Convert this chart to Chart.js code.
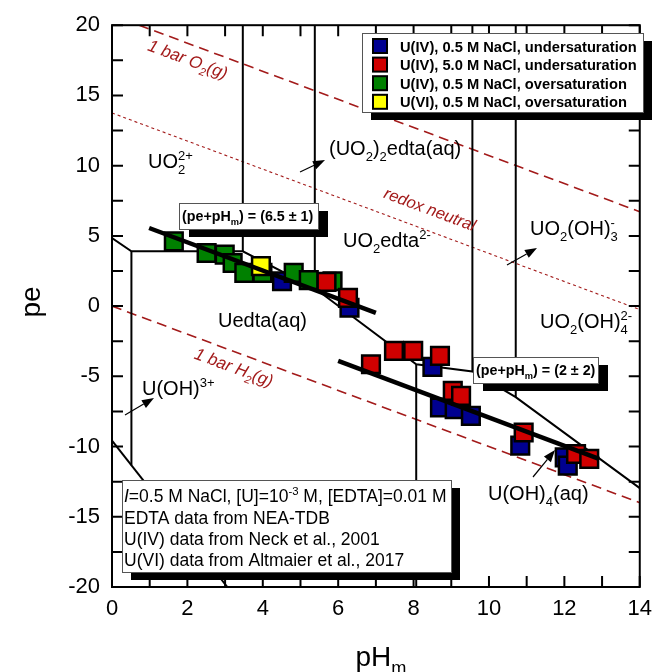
<!DOCTYPE html>
<html><head><meta charset="utf-8">
<script src="https://cdn.jsdelivr.net/npm/chart.js@4.4.1/dist/chart.umd.min.js"></script>
<style>html,body{margin:0;padding:0;background:#fff}canvas{display:block}</style>
</head><body>
<canvas id="c" width="661" height="672"></canvas>
<script>
// ---------- data ----------
const xTicks = [0, 2, 4, 6, 8, 10, 12, 14];
const yTicks = [-20, -15, -10, -5, 0, 5, 10, 15, 20];

const seriesNames = [
  'U(IV), 0.5 M NaCl, undersaturation',
  'U(IV), 5.0 M NaCl, undersaturation',
  'U(IV), 0.5 M NaCl, oversaturation',
  'U(VI), 0.5 M NaCl, oversaturation'
];
const blue05PH = [4.51, 6.30, 8.50, 8.70, 9.09, 9.52, 10.83, 12.01, 12.09];
const blue05PE = [1.77, -0.12, -4.33, -7.22, -7.33, -7.81, -9.94, -10.77, -11.36];
const red50PH = [5.69, 6.26, 6.87, 7.48, 7.99, 8.70, 9.04, 9.26, 10.92, 12.31, 12.66];
const red50PE = [1.73, 0.59, -4.14, -3.19, -3.19, -3.55, -6.03, -6.39, -9.00, -10.53, -10.88];
const green05PH = [1.64, 2.51, 2.99, 3.20, 3.51, 3.99, 4.82, 5.22, 5.85];
const green05PE = [4.61, 3.78, 3.67, 3.07, 2.36, 2.36, 2.36, 1.85, 1.77];
const yellowPH = [3.95];
const yellowPE = [2.84];

// fit lines (pe + pHm = const)
const fitHighPH = [0.985, 7.0];
const fitHighPE = [5.56, -0.48];
const fitLowPH = [6.0, 12.92];
const fitLowPE = [-3.90, -10.88];

// water stability / redox lines
const o2PH = [0.72, 14];
const o2PE = [20.0, 6.72];
const neutralPH = [0, 14];
const neutralPE = [13.75, -0.25];
const h2PH = [0, 14];
const h2PE = [0.0, -14.0];

// predominance boundaries
const bMainPH = [0, 0.515, 3.47, 5.38, 8.07, 9.56, 10.71, 14];
const bMainPE = [4.85, 3.90, 3.90, 1.27, -4.14, -4.65, -6.48, -12.96];
const bV1PH = [3.47, 3.47];   const bV1PE = [3.90, 20];
const bV2PH = [5.38, 5.38];   const bV2PE = [1.27, 20];
const bV3PH = [9.56, 9.56];   const bV3PE = [-4.65, 20];
const bV4PH = [10.71, 10.71]; const bV4PE = [-6.48, 20];
const bV5PH = [0.515, 0.515]; const bV5PE = [3.90, -11.33];
const bV6PH = [8.07, 8.07];   const bV6PE = [-4.14, -20];
const bDiagPH = [0, 3.06];    const bDiagPE = [-9.58, -20];

// ---------- helpers ----------
const FONT = '"Liberation Sans", Arial, Helvetica, sans-serif';
const DRED = '#a31b1b';
function xy(a, b) { return a.map((v, i) => ({ x: v, y: b[i] })); }
function f(size, bold, italic) { return (italic ? 'italic ' : '') + (bold ? 'bold ' : '') + size + 'px ' + FONT; }

function measureParts(ctx, parts, size, o) {
  let w = 0; const small = size * (o.small || 0.65);
  for (const p of parts) {
    if (typeof p === 'string') { ctx.font = f(size, o.bold, o.italic); w += ctx.measureText(p).width; }
    else if (p.it !== undefined) { ctx.font = f(size, o.bold, true); w += ctx.measureText(p.it).width; }
    else {
      ctx.font = f(small, o.bold, o.italic);
      const a = p.sub ? ctx.measureText(p.sub).width : 0;
      const b = p.sup ? ctx.measureText(p.sup).width : 0;
      w += Math.max(a, b);
    }
  }
  return w;
}
function drawParts(ctx, x, y, parts, size, o = {}) {
  const small = size * (o.small || 0.65);
  let cx = x;
  if (o.align === 'center') cx -= measureParts(ctx, parts, size, o) / 2;
  ctx.textAlign = 'left'; ctx.textBaseline = 'alphabetic';
  ctx.fillStyle = o.color || '#000';
  for (const p of parts) {
    if (typeof p === 'string') {
      ctx.font = f(size, o.bold, o.italic); ctx.fillText(p, cx, y); cx += ctx.measureText(p).width;
    } else if (p.it !== undefined) {
      ctx.font = f(size, o.bold, true); ctx.fillText(p.it, cx, y); cx += ctx.measureText(p.it).width;
    } else {
      ctx.font = f(small, o.bold, o.italic); let w = 0;
      if (p.sub) { ctx.fillText(p.sub, cx, y + size * 0.28); w = ctx.measureText(p.sub).width; }
      if (p.sup) { ctx.fillText(p.sup, cx, y - size * 0.42); w = Math.max(w, ctx.measureText(p.sup).width); }
      cx += w;
    }
  }
}
function shadowBox(ctx, x, y, w, h, dx, dy) {
  ctx.fillStyle = '#000'; ctx.fillRect(x + dx, y + dy, w, h);
  ctx.fillStyle = '#fff'; ctx.fillRect(x, y, w, h);
  ctx.strokeStyle = '#555'; ctx.lineWidth = 1; ctx.strokeRect(x + 0.5, y + 0.5, w, h);
}
function arrow(ctx, x1, y1, x2, y2) {
  const ang = Math.atan2(y2 - y1, x2 - x1), L = 12, W = 4.5;
  const bx = x2 - L * Math.cos(ang), by = y2 - L * Math.sin(ang);
  ctx.strokeStyle = '#000'; ctx.lineWidth = 1.2;
  ctx.beginPath(); ctx.moveTo(x1, y1); ctx.lineTo(bx, by); ctx.stroke();
  ctx.fillStyle = '#000'; ctx.beginPath();
  ctx.moveTo(x2, y2);
  ctx.lineTo(bx + W * Math.sin(ang), by - W * Math.cos(ang));
  ctx.lineTo(bx - W * Math.sin(ang), by + W * Math.cos(ang));
  ctx.closePath(); ctx.fill();
}

// ---------- datasets ----------
const lineDs = (label, a, b, color, width, dash, order) => ({
  label, data: xy(a, b), showLine: true, pointRadius: 0, borderColor: color,
  borderWidth: width, borderDash: dash || [], fill: false, order, tension: 0
});
const markDs = (label, a, b, color, order) => ({
  label, data: xy(a, b), showLine: false, pointStyle: 'rect', pointRadius: 12.5,
  pointHoverRadius: 12.5, backgroundColor: color, borderColor: '#000', borderWidth: 2.5, order
});
const COLORS = ['#000090', '#d00000', '#008000', '#ffff00'];

const datasets = [
  lineDs('fitHigh', fitHighPH, fitHighPE, '#000', 4.5, null, 0),
  lineDs('fitLow', fitLowPH, fitLowPE, '#000', 4.5, null, 0),
  markDs(seriesNames[1], red50PH, red50PE, COLORS[1], 1),
  markDs(seriesNames[3], yellowPH, yellowPE, COLORS[3], 2),
  markDs(seriesNames[2], green05PH, green05PE, COLORS[2], 3),
  markDs(seriesNames[0], blue05PH, blue05PE, COLORS[0], 4),
  lineDs('bMain', bMainPH, bMainPE, '#000', 2, null, 5),
  lineDs('bV1', bV1PH, bV1PE, '#000', 2, null, 5),
  lineDs('bV2', bV2PH, bV2PE, '#000', 2, null, 5),
  lineDs('bV3', bV3PH, bV3PE, '#000', 2, null, 5),
  lineDs('bV4', bV4PH, bV4PE, '#000', 2, null, 5),
  lineDs('bV5', bV5PH, bV5PE, '#000', 2, null, 5),
  lineDs('bV6', bV6PH, bV6PE, '#000', 2, null, 5),
  lineDs('bDiag', bDiagPH, bDiagPE, '#000', 2, null, 5),
  lineDs('O2', o2PH, o2PE, DRED, 1.6, [10, 6], 6),
  lineDs('neutral', neutralPH, neutralPE, DRED, 1.1, [3, 3], 6),
  lineDs('H2', h2PH, h2PE, DRED, 1.6, [10, 6], 6)
];

// ---------- annotation plugin ----------
const annot = {
  id: 'annot',
  afterDatasetsDraw(chart) {
    const ctx = chart.ctx, xs = chart.scales.x, ys = chart.scales.y;
    const L = xs.left, R = xs.right, T = ys.top, B = ys.bottom;
    ctx.save();
    // region labels
    const S = 20;
    drawParts(ctx, 148, 168, ['UO', { sub: '2', sup: '2+' }], S);
    drawParts(ctx, 329, 155, ['(UO', { sub: '2' }, ')', { sub: '2' }, 'edta(aq)'], S);
    drawParts(ctx, 343, 247, ['UO', { sub: '2' }, 'edta', { sup: '2-' }], S);
    drawParts(ctx, 530, 235, ['UO', { sub: '2' }, '(OH)', { sub: '3', sup: '-' }], S);
    drawParts(ctx, 540, 328, ['UO', { sub: '2' }, '(OH)', { sub: '4', sup: '2-' }], S);
    drawParts(ctx, 218, 327, ['Uedta(aq)'], S);
    drawParts(ctx, 142, 395, ['U(OH)', { sup: '3+' }], S);
    drawParts(ctx, 488, 500, ['U(OH)', { sub: '4' }, '(aq)'], S);
    // arrows
    arrow(ctx, 300, 172, 325, 160);
    arrow(ctx, 507, 265, 537, 248);
    arrow(ctx, 125, 415, 154, 398);
    arrow(ctx, 533, 477, 555, 450);
    // rotated redox-line labels
    const ang = Math.atan2(ys.getPixelForValue(o2PE[1]) - ys.getPixelForValue(o2PE[0]),
                           xs.getPixelForValue(o2PH[1]) - xs.getPixelForValue(o2PH[0]));
    const rot = (cx, cy, parts, size) => {
      ctx.save(); ctx.translate(cx, cy); ctx.rotate(ang);
      drawParts(ctx, 0, size * 0.35, parts, size, { align: 'center', color: DRED, italic: true });
      ctx.restore();
    };
    rot(188, 59, ['1 bar O', { sub: '2' }, '(g)'], 17);
    rot(430, 209, ['redox neutral'], 16.5);
    rot(234, 367, ['1 bar H', { sub: '2' }, '(g)'], 17);

    // frame and inward ticks
    ctx.strokeStyle = '#000'; ctx.lineWidth = 2;
    ctx.strokeRect(L, T, R - L, B - T);
    ctx.beginPath();
    for (let v = 0; v <= 14; v += 1) {
      const px = xs.getPixelForValue(v);
      ctx.moveTo(px, B); ctx.lineTo(px, B - 11);
      ctx.moveTo(px, T); ctx.lineTo(px, T + 11);
    }
    for (let v = -20; v <= 20; v += 2.5) {
      const py = ys.getPixelForValue(v);
      ctx.moveTo(L, py); ctx.lineTo(L + 11, py);
      ctx.moveTo(R, py); ctx.lineTo(R - 11, py);
    }
    ctx.stroke();

    // fit label boxes
    shadowBox(ctx, 179, 203, 139, 26, 10, 8);
    drawParts(ctx, 182, 221, ['(pe+pH', { sub: 'm' }, ') = (6.5 \u00b1 1)'], 14.3, { bold: true });
    shadowBox(ctx, 473, 357, 125, 26, 10, 8);
    drawParts(ctx, 476, 375, ['(pe+pH', { sub: 'm' }, ') = (2 \u00b1 2)'], 14.3, { bold: true });

    // legend
    shadowBox(ctx, 362, 33, 281, 79, 9, 8);
    const order = [5, 2, 4, 3]; // dataset indices: blue, red, green, yellow
    order.forEach((di, i) => {
      const ds = chart.data.datasets[di];
      const cy = 46 + i * 18.6;
      ctx.fillStyle = ds.backgroundColor; ctx.fillRect(373, cy - 7, 14, 14);
      ctx.strokeStyle = '#000'; ctx.lineWidth = 2; ctx.strokeRect(373, cy - 7, 14, 14);
      drawParts(ctx, 400, cy + 5.5, [ds.label], 14.7, { bold: true });
    });

    // info box
    shadowBox(ctx, 122, 480, 329, 92, 9, 8);
    const IS = 17.5;
    drawParts(ctx, 124, 502, [{ it: 'I' }, '=0.5 M NaCl, [U]=10', { sup: '-3' }, ' M, [EDTA]=0.01 M'], IS);
    drawParts(ctx, 124, 523.5, ['EDTA data from NEA-TDB'], IS);
    drawParts(ctx, 124, 545, ['U(IV) data from Neck et al., 2001'], IS);
    drawParts(ctx, 124, 566, ['U(VI) data from Altmaier et al., 2017'], IS);

    // axis titles
    ctx.save(); ctx.translate(40, 302); ctx.rotate(-Math.PI / 2);
    drawParts(ctx, 0, 0, ['pe'], 28, { align: 'center' });
    ctx.restore();
    drawParts(ctx, 381, 666, ['pH', { sub: 'm' }], 28, { align: 'center' });
    ctx.restore();
  }
};

new Chart(document.getElementById('c'), {
  type: 'scatter',
  data: { datasets },
  plugins: [annot],
  options: {
    responsive: false, animation: false, devicePixelRatio: 1, events: [],
    layout: { padding: { top: 23, right: 13, left: 0, bottom: 0 } },
    plugins: { legend: { display: false }, tooltip: { enabled: false } },
    scales: {
      x: {
        type: 'linear', min: 0, max: 14,
        afterBuildTicks: s => { s.ticks = xTicks.map(v => ({ value: v })); },
        ticks: { font: { size: 22, family: FONT }, color: '#000', padding: 9, maxRotation: 0, autoSkip: false },
        grid: { display: false, drawTicks: false }, border: { display: false },
        afterFit: s => { s.height = 85; }
      },
      y: {
        type: 'linear', min: -20, max: 20,
        afterBuildTicks: s => { s.ticks = yTicks.map(v => ({ value: v })); },
        ticks: { font: { size: 22, family: FONT }, color: '#000', padding: 12, autoSkip: false },
        grid: { display: false, drawTicks: false }, border: { display: false },
        afterFit: s => { s.width = 112; }
      }
    }
  }
});
</script>
</body></html>
